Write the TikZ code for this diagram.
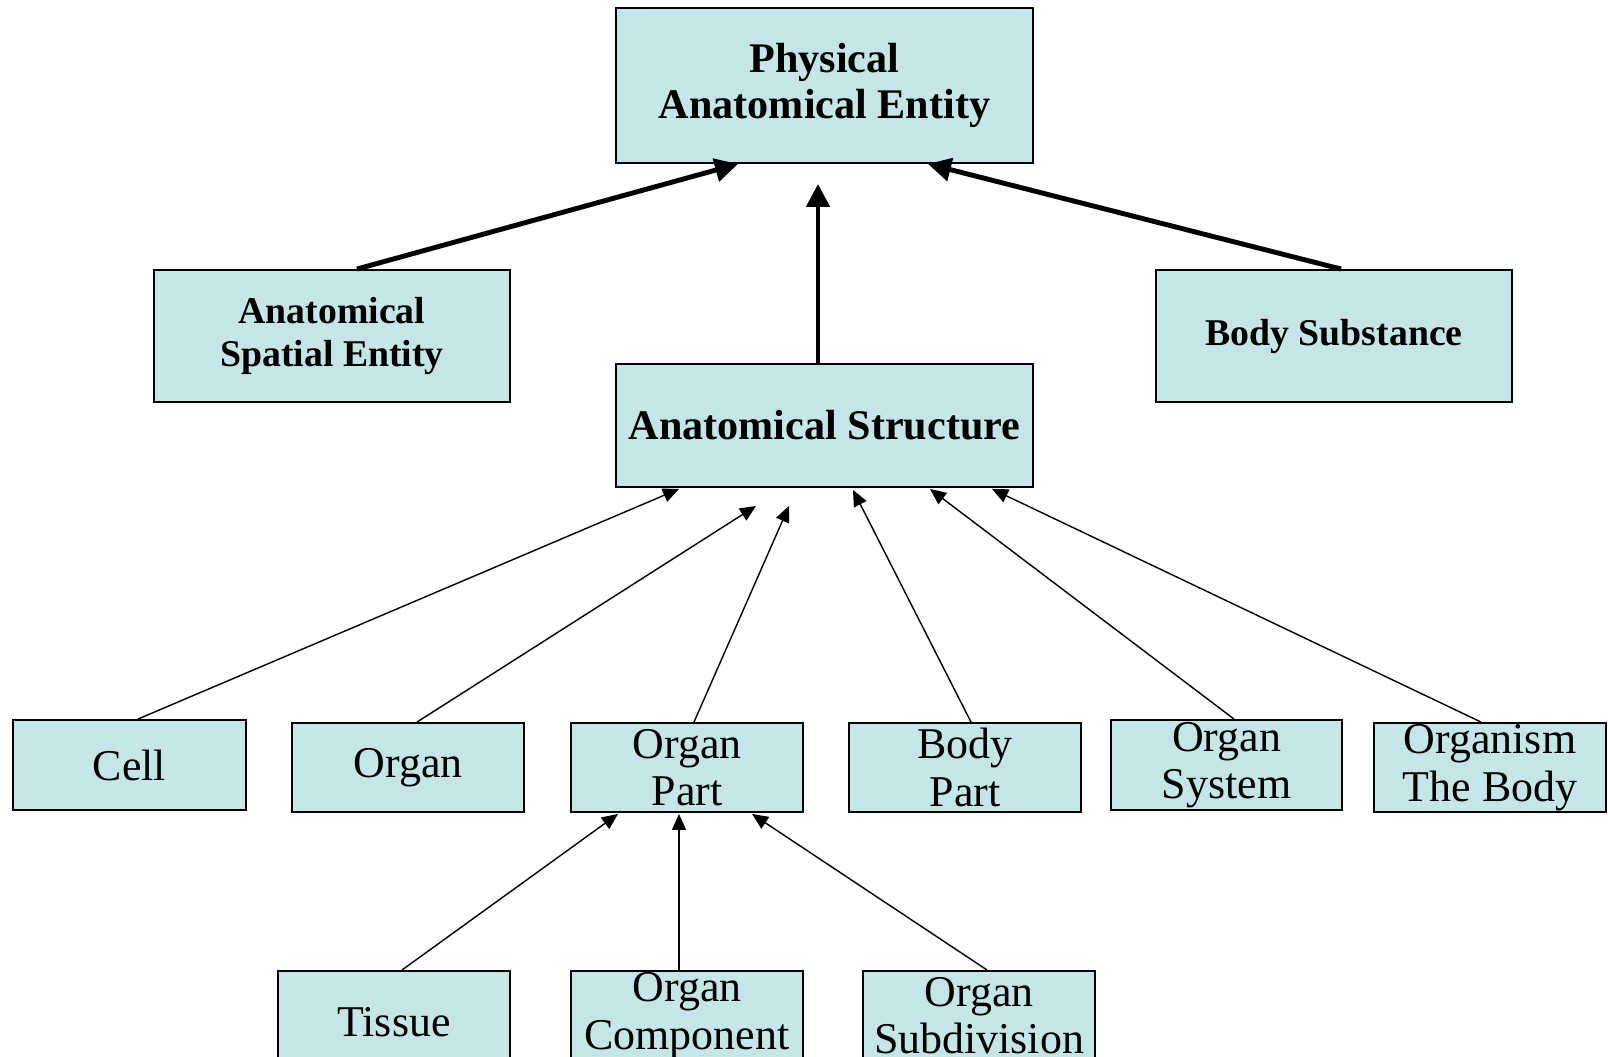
\documentclass[tikz,border=0pt]{standalone}
\usepackage{fontspec}
\setmainfont{Liberation Serif}
\usetikzlibrary{arrows.meta,calc}
\definecolor{class_box_background}{HTML}{C6E5E8}
\tikzstyle{class_box} =[draw=black,line width=1.1pt,fill=class_box_background,align=center,inner sep=0pt]
\tikzstyle{upper_class_box} =[class_box,minimum width=7.12cm,minimum height=2.64cm,font=\bfseries\fontsize{21.5}{25}\selectfont]
\tikzstyle{leaf_class_box} =[class_box,minimum width=4.64cm,minimum height=1.78cm,font=\fontsize{25}{27}\selectfont]
\tikzstyle{thick_link} =[line width=2.8pt,-{Triangle[length=0.46cm,width=0.46cm]}]
\tikzstyle{thin_link} =[line width=0.8pt,-{Triangle[length=0.32cm,width=0.28cm]}]

\begin{document}
\begin{tikzpicture}[x=0.02cm,y=-0.02cm]

    \useasboundingbox (0,0) rectangle (1608,1057);
    \clip (0,0) rectangle (1608,1057);

    % Top of the hierarchy
    \node[class_box,minimum width=8.34cm,minimum height=3.1cm,font=\bfseries\fontsize{24}{26}\selectfont] (physical_entity) at (824.5,85.5) {Physical\\Anatomical Entity};
    \node[upper_class_box] (spatial_entity) at (332,336) {Anatomical\\Spatial Entity};
    \node[upper_class_box] (body_substance) at (1334,336) {Body Substance};
    \node[class_box,minimum width=8.34cm,minimum height=2.46cm,font=\bfseries\fontsize{24}{26}\selectfont] (anatomical_structure) at (824.5,425.5) {Anatomical Structure};

    % Kinds of anatomical structure
    \node[leaf_class_box,minimum width=4.66cm,minimum height=1.8cm] (cell_node) at (129.5,765) {Cell};
    \node[leaf_class_box] (organ_node) at (408,767.5) {Organ};
    \node[leaf_class_box] (organ_part_node) at (687,767.5) {Organ\\Part};
    \node[leaf_class_box] (body_part_node) at (965,767.5) {Body\\Part};
    \node[leaf_class_box,minimum width=4.62cm,minimum height=1.8cm] (organ_system_node) at (1226.5,765) {Organ\\System};
    \node[leaf_class_box] (organism_node) at (1490,767.5) {Organism\\The Body};

    % Kinds of organ part
    \node[leaf_class_box,minimum height=2.04cm,anchor=north] (tissue_node) at (394,970) {Tissue};
    \node[leaf_class_box,anchor=north] (organ_component_node) at (687,970) {Organ\\Component};
    \node[leaf_class_box,anchor=north] (organ_subdivision_node) at (979,970) {Organ\\Subdivision};

    % Upper links
    \draw[thick_link] ($(spatial_entity.north)+(25,0)$) -- ($(physical_entity.south)+(-86.5,0)$);
    \draw[thick_link] ($(anatomical_structure.north)+(-6.5,0)$) -- ($(physical_entity.south)+(-6.5,20)$);
    \draw[thick_link] ($(body_substance.north)+(7,0)$) -- ($(physical_entity.south)+(103.5,0)$);

    % Links to anatomical structure
    \draw[thin_link] ($(cell_node.north)+(8.5,0)$) -- ($(anatomical_structure.south)+(-145.5,1)$);
    \draw[thin_link] ($(organ_node.north)+(9,0)$) -- ($(anatomical_structure.south)+(-68.5,18)$);
    \draw[thin_link] ($(organ_part_node.north)+(7,0)$) -- ($(anatomical_structure.south)+(-35.5,18)$);
    \draw[thin_link] ($(body_part_node.north)+(6,0)$) -- ($(anatomical_structure.south)+(28.5,2)$);
    \draw[thin_link] ($(organ_system_node.north)+(7.5,0)$) -- ($(anatomical_structure.south)+(105.5,1)$);
    \draw[thin_link] ($(organism_node.north)+(-9,0)$) -- ($(anatomical_structure.south)+(167.5,1)$);

    % Links to organ part
    \draw[thin_link] ($(tissue_node.north)+(8,0)$) -- ($(organ_part_node.south)+(-69,1)$);
    \draw[thin_link] ($(organ_component_node.north)+(-8,0)$) -- ($(organ_part_node.south)+(-8,1)$);
    \draw[thin_link] ($(organ_subdivision_node.north)+(8,0)$) -- ($(organ_part_node.south)+(65,1)$);

\end{tikzpicture}
\end{document}
